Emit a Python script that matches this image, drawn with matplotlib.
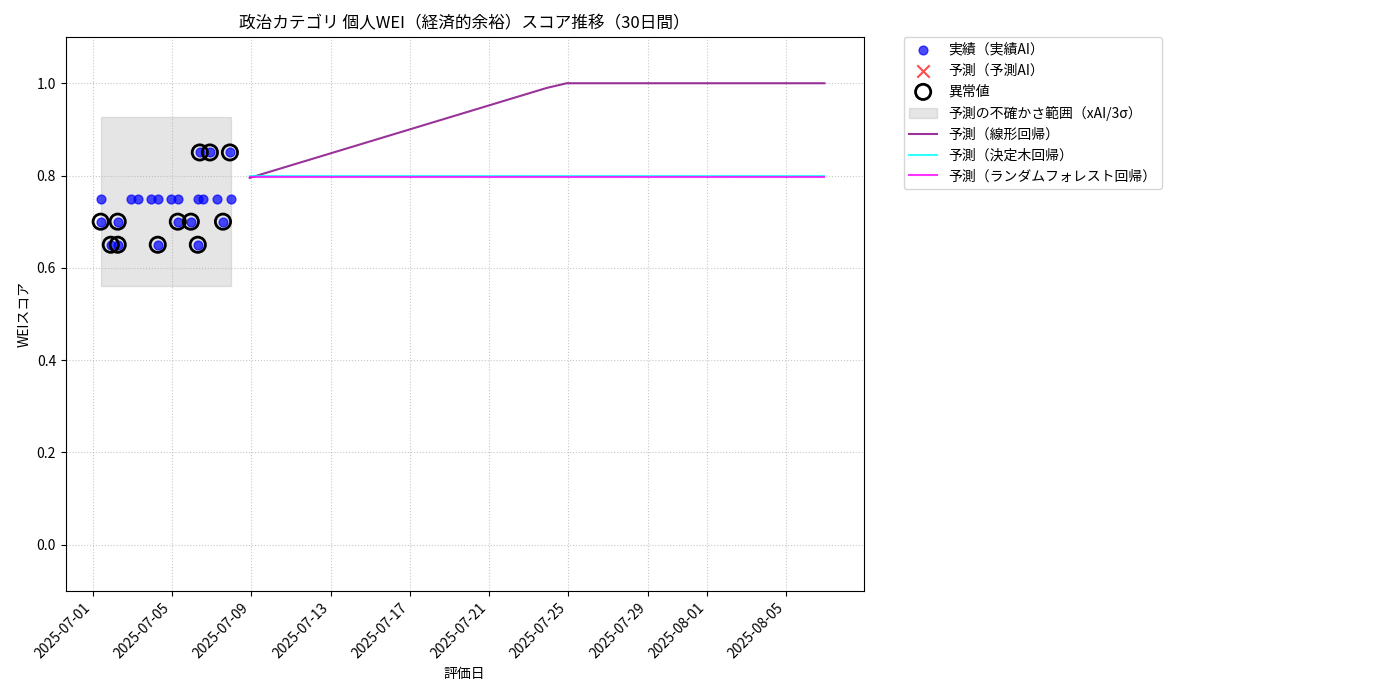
import numpy as np
import pandas as pd
import matplotlib
matplotlib.use('Agg')
import matplotlib.pyplot as plt

plt.rcParams['font.family'] = ['Noto Sans CJK JP', 'DejaVu Sans']

# 実績データ（7/1 0時からの経過日数）
actual_days = [0.40, 1.92, 2.27, 2.93, 3.28, 3.94, 4.29, 5.30, 5.56, 6.26, 6.97,
               0.40, 1.26, 4.29, 4.95, 6.57,
               0.91, 1.26, 3.28, 5.30,
               5.40, 5.91, 6.92]
actual_scores = [0.75] * 11 + [0.70] * 5 + [0.65] * 4 + [0.85] * 3
anomaly_days = actual_days[11:]
anomaly_scores = actual_scores[11:]

# 予測（30日間）
linear_pred = [0.795, 0.808, 0.821, 0.834, 0.847, 0.860, 0.873, 0.886, 0.899, 0.912,
               0.925, 0.938, 0.951, 0.964, 0.977, 0.990] + [1.0] * 14
tree_pred = [0.800] * 30
forest_pred = [0.797] * 30
band_lo, band_hi = 0.56, 0.926

start = pd.Timestamp('2025-07-01')
actual_dates = [start + pd.Timedelta(days=d) for d in actual_days]
anomaly_dates = [start + pd.Timedelta(days=d) for d in anomaly_days]
pred_dates = pd.date_range('2025-07-08 22:00', periods=30, freq='D')

fig, ax = plt.subplots(figsize=(14, 7), dpi=100)
fig.subplots_adjust(left=0.047, right=0.617, top=0.947, bottom=0.156)

ax.scatter(actual_dates, actual_scores, color='blue', alpha=0.7, s=40, label='実績（実績AI）', zorder=3)
ax.scatter([], [], color='red', marker='x', s=80, alpha=0.7, label='予測（予測AI）')
ax.scatter(anomaly_dates, anomaly_scores, facecolors='none', edgecolors='black', s=120,
           linewidths=2, label='異常値', zorder=4)
ax.fill_between([min(actual_dates), max(actual_dates)], band_lo, band_hi, color='gray',
                alpha=0.2, label='予測の不確かさ範囲（xAI/3σ）')
ax.plot(pred_dates, linear_pred, color='purple', alpha=0.8, label='予測（線形回帰）')
ax.plot(pred_dates, tree_pred, color='cyan', alpha=0.8, label='予測（決定木回帰）')
ax.plot(pred_dates, forest_pred, color='magenta', alpha=0.8, label='予測（ランダムフォレスト回帰）')

ax.set_ylim(-0.1, 1.1)
ax.set_xlim(start - pd.Timedelta(days=1.36), start + pd.Timedelta(days=38.9))
ax.set_title('政治カテゴリ 個人WEI（経済的余裕）スコア推移（30日間）')
ax.set_xlabel('評価日')
ax.set_ylabel('WEIスコア')
ax.grid(True, linestyle=':', alpha=0.7)
plt.setp(ax.get_xticklabels(), rotation=45, ha='right')
ax.legend(bbox_to_anchor=(1.05, 1), loc='upper left', borderaxespad=0.)

fig.savefig('out.png')
